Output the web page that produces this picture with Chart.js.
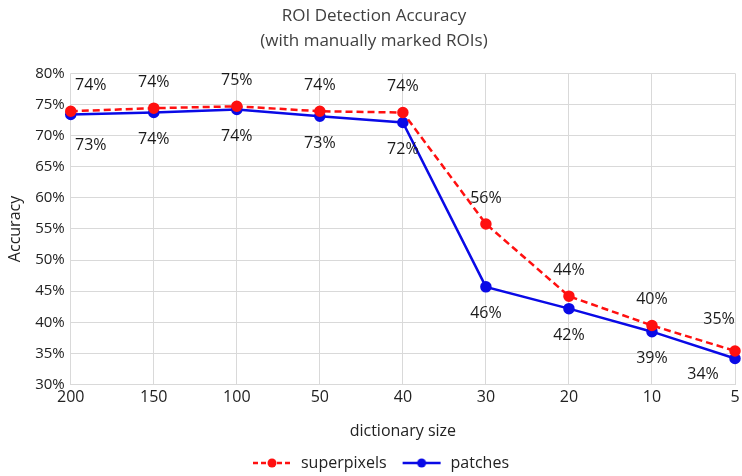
<!DOCTYPE html>
<html>
<head>
<meta charset="utf-8">
<script src="https://cdn.jsdelivr.net/npm/chart.js@4/dist/chart.umd.min.js"></script>
<style>
    html, body { margin: 0; padding: 0; background: #fff; }
    #wrap { width: 742px; height: 476px; }
</style>
</head>
<body>
<div id="wrap"><canvas id="roiChart"></canvas></div>
<script>
const dictSizes = ['200', '150', '100', '50', '40', '30', '20', '10', '5'];
const superpixels = [73.9, 74.4, 74.7, 73.9, 73.7, 55.8, 44.2, 39.5, 35.4];
const patches = [73.4, 73.7, 74.2, 73.1, 72.1, 45.7, 42.2, 38.5, 34.2];
const yTicks = [30, 35, 40, 45, 50, 55, 60, 65, 70, 75, 80];

const FONT = "'Open Sans', 'Liberation Sans', sans-serif";

// little legend icon: line with a dot in the middle (blank space on the left = gap between items)
function legendIcon(color, dashed) {
    const c = document.createElement('canvas');
    c.width = 54; c.height = 12;
    const g = c.getContext('2d');
    g.strokeStyle = color;
    g.lineWidth = 2.5;
    if (dashed) g.setLineDash([5, 3]);
    g.beginPath(); g.moveTo(14, 6); g.lineTo(52, 6); g.stroke();
    g.setLineDash([]);
    g.fillStyle = color;
    g.beginPath(); g.arc(33, 6, 4.5, 0, Math.PI * 2); g.fill();
    return c;
}

// draws the % labels next to each point
const pointLabels = {
    id: 'pointLabels',
    afterDatasetsDraw(chart) {
        const ctx = chart.ctx;
        ctx.save();
        ctx.font = '16px ' + FONT;
        ctx.fillStyle = '#1a1a1a';
        ctx.textBaseline = 'middle';
        chart.data.datasets.forEach((ds, di) => {
            const meta = chart.getDatasetMeta(di);
            const last = meta.data.length - 1;
            meta.data.forEach((pt, i) => {
                const txt = Math.round(ds.data[i]) + '%';
                let x = pt.x;
                let y = di === 0 ? pt.y - 26 : pt.y + 27;
                ctx.textAlign = 'center';
                if (i === 0) x += 20;
                if (i === last) {
                    x -= di === 0 ? 16 : 32;
                    y = di === 0 ? pt.y - 32 : pt.y + 16;
                }
                if (i === 0 && di === 1) y += 4;
                ctx.fillText(txt, x, y);
            });
        });
        ctx.restore();
    }
};

new Chart(document.getElementById('roiChart'), {
    type: 'line',
    data: {
        labels: dictSizes,
        datasets: [
            {
                label: 'superpixels',
                data: superpixels,
                borderColor: '#ff1010',
                backgroundColor: '#ff1010',
                borderWidth: 2.5,
                borderDash: [7, 4],
                pointRadius: 4.5,
                pointHoverRadius: 4.5,
                tension: 0
            },
            {
                label: 'patches',
                data: patches,
                borderColor: '#0a0ae6',
                backgroundColor: '#0a0ae6',
                borderWidth: 2.5,
                pointRadius: 4.5,
                pointHoverRadius: 4.5,
                tension: 0
            }
        ]
    },
    options: {
        responsive: true,
        maintainAspectRatio: false,
        animation: false,
        layout: { padding: { left: 6, right: 0, top: 4, bottom: -5 } },
        plugins: {
            title: {
                display: true,
                text: ['ROI Detection Accuracy', '(with manually marked ROIs)'],
                color: '#404040',
                font: { family: FONT, size: 17, weight: 'normal', lineHeight: 1.45 },
                padding: { top: 0, bottom: 20 }
            },
            legend: {
                position: 'bottom',
                labels: {
                    usePointStyle: true,
                    pointStyleWidth: 54,
                    boxHeight: 12,
                    color: '#222',
                    font: { family: FONT, size: 16 },
                    padding: 2,
                    generateLabels(chart) {
                        return chart.data.datasets.map((ds, i) => ({
                            text: ds.label,
                            datasetIndex: i,
                            pointStyle: legendIcon(ds.borderColor, i === 0),
                            fontColor: '#222',
                            hidden: false,
                            lineWidth: 0,
                            strokeStyle: ds.borderColor,
                            fillStyle: ds.borderColor
                        }));
                    }
                }
            },
            tooltip: { enabled: false }
        },
        scales: {
            x: {
                offset: false,
                afterFit(scale) { scale.paddingRight = 0; },
                grid: { color: '#d9d9d9', drawTicks: false },
                border: { color: '#d9d9d9' },
                ticks: { color: '#222', font: { family: FONT, size: 16 }, padding: 3, maxRotation: 0 },
                title: {
                    display: true,
                    text: 'dictionary size',
                    color: '#222',
                    font: { family: FONT, size: 16 },
                    padding: { top: 12, bottom: 12 }
                }
            },
            y: {
                min: 30,
                max: 80,
                afterBuildTicks(axis) {
                    axis.ticks = yTicks.map(v => ({ value: v }));
                },
                grid: { color: '#d9d9d9', drawTicks: false },
                border: { display: false },
                ticks: {
                    color: '#222',
                    font: { family: FONT, size: 15 },
                    padding: 6,
                    callback: v => v + '%'
                },
                title: {
                    display: true,
                    text: 'Accuracy',
                    color: '#222',
                    font: { family: FONT, size: 16 },
                    padding: { top: 0, bottom: 4 }
                }
            }
        }
    },
    plugins: [pointLabels]
});
</script>
</body>
</html>
